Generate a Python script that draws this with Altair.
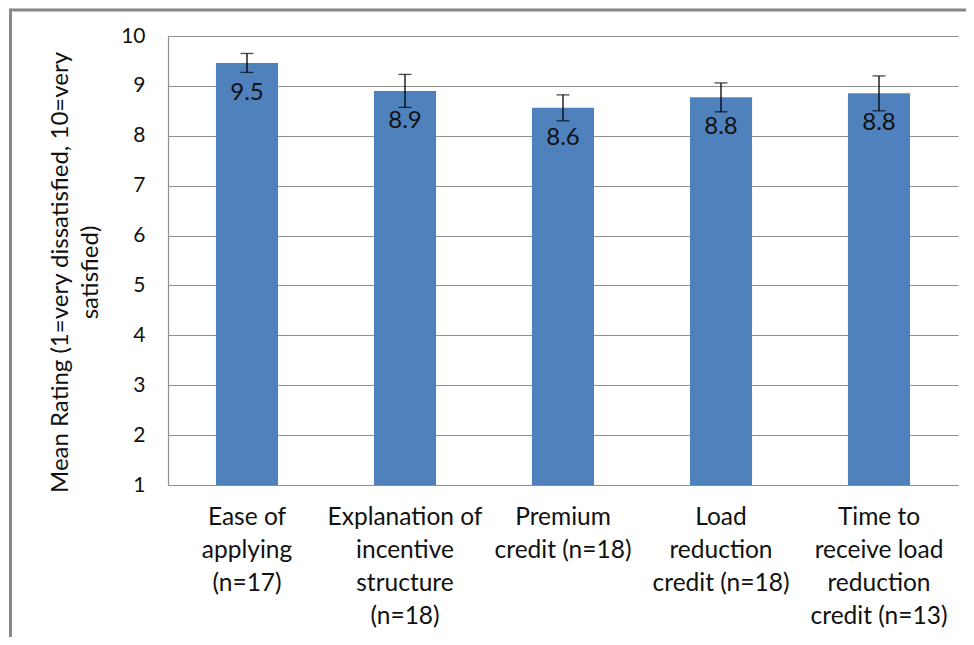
import altair as alt
import pandas as pd

categories = [
    "Ease of\napplying\n(n=17)",
    "Explanation of\nincentive\nstructure\n(n=18)",
    "Premium\ncredit (n=18)",
    "Load\nreduction\ncredit (n=18)",
    "Time to\nreceive load\nreduction\ncredit (n=13)",
]
means = [9.46, 8.90, 8.56, 8.77, 8.85]
errors = [0.19, 0.33, 0.26, 0.29, 0.35]
value_labels = ["9.5", "8.9", "8.6", "8.8", "8.8"]
y_ticks = [1, 2, 3, 4, 5, 6, 7, 8, 9, 10]

df = pd.DataFrame({"cat": categories, "mean": means, "err": errors, "label": value_labels})
df["lo"] = df["mean"] - df["err"]
df["hi"] = df["mean"] + df["err"]
df["base"] = 1

FONT = "Lato"
GRID = "#8f8f8f"

x = alt.X(
    "cat:N",
    sort=categories,
    scale=alt.Scale(paddingInner=0.607, paddingOuter=0.3035),
    axis=alt.Axis(
        title=None,
        labelAngle=0,
        labelExpr="split(datum.label, '\\n')",
        labelFont=FONT,
        labelFontSize=24.5,
        labelLineHeight=33,
        labelColor="#111111",
        labelPadding=20,
        labelBaseline="top",
        labelLimit=0,
        ticks=False,
        domainColor=GRID,
        domainWidth=1.2,
    ),
)

y = alt.Y(
    "mean:Q",
    scale=alt.Scale(domain=[1, 10], nice=False, zero=False),
    axis=alt.Axis(
        values=y_ticks,
        title=["Mean Rating (1=very dissatisfied, 10=very", "satisfied)"],
        titleFont=FONT,
        titleFontSize=24,
        titleFontWeight="normal",
        titleColor="#111111",
        titleLineHeight=30,
        titleX=-108,
        titleY=236,
        titleAlign="center",
        titleBaseline="middle",
        labelFont=FONT,
        labelFontSize=21,
        labelColor="#111111",
        labelPadding=23,
        ticks=False,
        grid=True,
        gridColor=GRID,
        gridWidth=1.2,
        domainColor=GRID,
        domainWidth=1.2,
    ),
)

base = alt.Chart(df)

bars = base.mark_bar(color="#4F81BD").encode(x=x, y=y, y2="base:Q")
err_rule = base.mark_rule(color="black", strokeWidth=1.3).encode(x=x, y="lo:Q", y2="hi:Q")
cap_hi = base.mark_tick(color="black", size=13, thickness=1.3).encode(x=x, y="hi:Q")
cap_lo = base.mark_tick(color="black", size=13, thickness=1.3).encode(x=x, y="lo:Q")
text = base.mark_text(font=FONT, fontSize=24, baseline="alphabetic", dy=37, color="#111111").encode(
    x=x, y="mean:Q", text="label:N"
)

one = alt.Chart(alt.Data(values=[{"a": 1}]))
border_top = one.mark_rule(color="#888888", strokeWidth=3).encode(
    x=alt.value(-157.5), x2=alt.value(798), y=alt.value(-26)
)
border_left = one.mark_rule(color="#888888", strokeWidth=3).encode(
    x=alt.value(-157.5), y=alt.value(-27.5), y2=alt.value(601)
)

chart = (
    alt.layer(bars, err_rule, cap_hi, cap_lo, text, border_top, border_left)
    .properties(
        width=790,
        height=449,
        autosize=alt.AutoSizeParams(type="none"),
        padding={"left": 160, "top": 28, "right": 8, "bottom": 152},
        background="white",
    )
    .configure_view(stroke=None)
)

chart.save("out.html", embed_options={"renderer": "svg", "actions": False})
